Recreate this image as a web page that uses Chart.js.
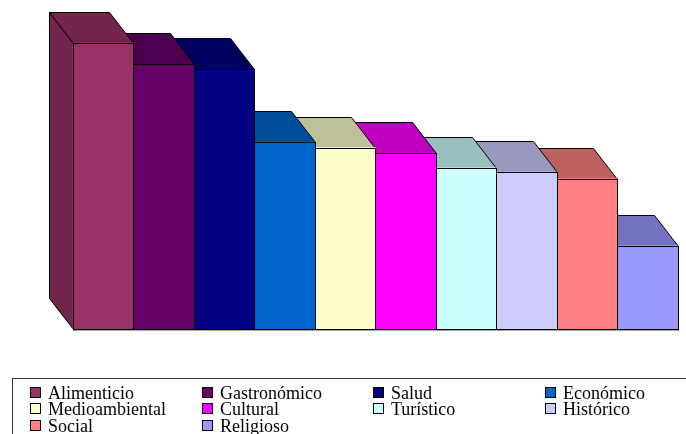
<!DOCTYPE html>
<html>
<head>
<meta charset="utf-8">
<script src="https://cdn.jsdelivr.net/npm/chart.js@4/dist/chart.umd.min.js"></script>
<style>
  html, body { margin: 0; padding: 0; background: #fff; }
  #wrap { position: relative; width: 686px; height: 434px; overflow: hidden; }
  #chart { position: absolute; left: 0; top: 0; }
  #legend {
    position: absolute; left: 12px; top: 378px; width: 700px; height: 80px;
    border-left: 1px solid #333; border-top: 1px solid #333; box-sizing: border-box;
  }
  .item {
    position: absolute; height: 17px; white-space: nowrap;
    font: 18px "Liberation Serif", "Times New Roman", serif; line-height: 17px; color: #000;
  }
  .sw {
    position: absolute; left: 0; top: 2px; width: 11px; height: 11px;
    border: 1px solid #000; box-sizing: border-box;
  }
  .lbl { position: absolute; left: 18px; top: 0; }
</style>
</head>
<body>
<div id="wrap">
  <canvas id="chart" width="686" height="434"></canvas>
  <div id="legend"></div>
</div>
<script>
// Tourism categories and their values
const categories = ['Alimenticio', 'Gastronómico', 'Salud', 'Económico', 'Medioambiental',
                    'Cultural', 'Turístico', 'Histórico', 'Social', 'Religioso'];
const values = [35.0, 32.4, 31.8, 22.9, 22.2, 21.5, 19.7, 19.2, 18.4, 10.2];
const frontColors = ['#993366', '#660066', '#000080', '#0066CC', '#FFFFCC',
                     '#FF00FF', '#CCFFFF', '#CCCCFF', '#FF8080', '#9999FF'];
const yMax = 40;

// depth of the extruded bars (pixels back and up)
const DX = 24, DY = 31;

function shade(hex, f) {
  const n = parseInt(hex.slice(1), 16);
  const r = Math.round(((n >> 16) & 255) * f);
  const g = Math.round(((n >> 8) & 255) * f);
  const b = Math.round((n & 255) * f);
  return `rgb(${r},${g},${b})`;
}

function barBox(chart, i) {
  const el = chart.getDatasetMeta(i).data[0];
  const l = Math.round(el.x - el.width / 2);
  const r = Math.round(el.x + el.width / 2);
  return { l, r, t: Math.round(el.y), b: Math.round(el.base) };
}

const bar3d = {
  id: 'bar3d',
  beforeDatasetsDraw(chart) {
    const ctx = chart.ctx;
    ctx.save();
    ctx.lineWidth = 1;
    ctx.strokeStyle = '#000';
    ctx.lineJoin = 'miter';
    // draw back to front: rightmost bars are farther from the viewer
    for (let i = chart.data.datasets.length - 1; i >= 0; i--) {
      const { l, r, t, b } = barBox(chart, i);
      const side = shade(frontColors[i], 0.75);
      ctx.fillStyle = side;
      // left face
      ctx.beginPath();
      ctx.moveTo(l + 0.5, t + 0.5);
      ctx.lineTo(l - DX + 0.5, t - DY + 0.5);
      ctx.lineTo(l - DX + 0.5, b - DY + 0.5);
      ctx.lineTo(l + 0.5, b + 0.5);
      ctx.closePath();
      ctx.fill();
      ctx.stroke();
      // top face
      ctx.beginPath();
      ctx.moveTo(l + 0.5, t + 0.5);
      ctx.lineTo(r + 0.5, t + 0.5);
      ctx.lineTo(r - DX + 0.5, t - DY + 0.5);
      ctx.lineTo(l - DX + 0.5, t - DY + 0.5);
      ctx.closePath();
      ctx.fill();
      ctx.stroke();
    }
    ctx.restore();
  },
  afterDatasetsDraw(chart) {
    const ctx = chart.ctx;
    ctx.save();
    const n = chart.data.datasets.length;
    const first = barBox(chart, 0), last = barBox(chart, n - 1);
    // floor edge
    ctx.strokeStyle = '#a8a8a8';
    ctx.lineWidth = 1;
    ctx.beginPath();
    ctx.moveTo(first.l, first.b + 1.5);
    ctx.lineTo(last.r + 1, first.b + 1.5);
    ctx.stroke();
    // front outlines
    ctx.strokeStyle = '#000';
    for (let i = 0; i < n; i++) {
      const { l, r, t, b } = barBox(chart, i);
      ctx.strokeRect(l + 0.5, t + 0.5, r - l, b - t);
    }
    ctx.restore();
  }
};

new Chart(document.getElementById('chart'), {
  type: 'bar',
  data: {
    labels: [''],
    datasets: categories.map((name, i) => ({
      label: name,
      data: [values[i]],
      backgroundColor: frontColors[i],
      borderWidth: 0,
      categoryPercentage: 1,
      barPercentage: 1
    }))
  },
  options: {
    responsive: false,
    animation: false,
    devicePixelRatio: 1,
    layout: { padding: { left: 72.5, right: 8, top: 2, bottom: 105 } },
    scales: {
      x: { display: false },
      y: { display: false, min: 0, max: yMax }
    },
    plugins: { legend: { display: false }, tooltip: { enabled: false } }
  },
  plugins: [bar3d]
});

// legend: four columns, filled row by row
const legend = document.getElementById('legend');
const colX = [30, 202, 373, 545];
const rowY = [384.5, 401, 417.5];
categories.forEach((name, i) => {
  const item = document.createElement('div');
  item.className = 'item';
  item.style.left = (colX[i % 4] - 13) + 'px';
  item.style.top = (rowY[Math.floor(i / 4)] - 379) + 'px';
  const sw = document.createElement('span');
  sw.className = 'sw';
  sw.style.background = frontColors[i];
  const lbl = document.createElement('span');
  lbl.className = 'lbl';
  lbl.textContent = name;
  item.appendChild(sw);
  item.appendChild(lbl);
  legend.appendChild(item);
});
</script>
</body>
</html>
